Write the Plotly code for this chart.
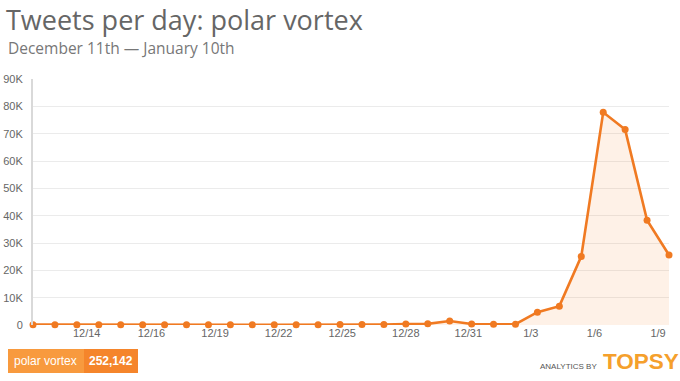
import plotly.graph_objects as go

# ---- data ----
day_index = list(range(30))  # Dec 11 ... Jan 9 (30 daily points)
tweets = [120, 90, 110, 100, 130, 95, 105, 90, 80, 100, 85, 110, 95, 120, 140,
          180, 200, 350, 420, 1450, 380, 260, 300, 4700, 6900, 25100, 77800,
          71500, 38300, 25600]
tick_positions = [2.45, 5.4, 8.3, 11.2, 14.1, 17.0, 19.85, 22.7, 25.6, 28.5]
tick_labels = ["12/14", "12/16", "12/19", "12/22", "12/25", "12/28", "12/31",
               "1/3", "1/6", "1/9"]
y_ticks = [0, 10000, 20000, 30000, 40000, 50000, 60000, 70000, 80000, 90000]
y_labels = ["0", "10K", "20K", "30K", "40K", "50K", "60K", "70K", "80K", "90K"]
series_name = "polar vortex"
total_text = "252,142"

ORANGE = "#F07A22"
W, H = 680, 381
L, R, T, B = 33, 11, 79, 56
PW, PH = W - L - R, H - T - B


def px(x):
    return (x - L) / PW


def py(y):
    return (H - B - y) / PH


fig = go.Figure()
fig.add_trace(go.Scatter(
    x=day_index, y=tweets, mode="lines+markers",
    line=dict(color=ORANGE, width=2.6),
    marker=dict(color=ORANGE, size=7),
    fill="tozeroy", fillcolor="rgba(245,140,60,0.12)",
    cliponaxis=False, showlegend=False, name=series_name,
))

fig.update_layout(
    width=W, height=H,
    margin=dict(l=L, r=R, t=T, b=B, autoexpand=False),
    paper_bgcolor="white", plot_bgcolor="white",
    font=dict(family="Liberation Sans, Arial, sans-serif", color="#666", size=11),
    xaxis=dict(range=[0, 29], tickvals=tick_positions, ticktext=tick_labels,
               showgrid=False, zeroline=False, showline=False, ticks="",
               automargin=False, tickfont=dict(size=11, color="#666")),
    yaxis=dict(range=[0, 90000], tickvals=y_ticks, ticktext=y_labels,
               showgrid=True, gridcolor="#EBEBEB", gridwidth=1,
               zeroline=False, showline=True, linecolor="#D9D9D9", linewidth=2,
               ticks="", ticklabelstandoff=6, automargin=False,
               tickfont=dict(size=11, color="#666")),
)

# Title & subtitle
fig.add_annotation(text="Tweets per day: polar vortex", xref="paper", yref="paper",
                   x=px(4), y=py(19), xanchor="left", yanchor="middle",
                   showarrow=False,
                   font=dict(family="Open Sans", size=27, color="#666"))
fig.add_annotation(text="December 11th \u2014 January 10th", xref="paper", yref="paper",
                   x=px(6), y=py(48), xanchor="left", yanchor="middle",
                   showarrow=False,
                   font=dict(family="Open Sans", size=15.5, color="#777"))

# legend-like badge
fig.add_shape(type="rect", xref="paper", yref="paper",
              x0=px(8), x1=px(84), y0=py(373), y1=py(349),
              fillcolor="#F89A3E", line=dict(width=0), layer="above")
fig.add_shape(type="rect", xref="paper", yref="paper",
              x0=px(84), x1=px(138), y0=py(373), y1=py(349),
              fillcolor="#F5852B", line=dict(width=0), layer="above")
fig.add_annotation(text=series_name, xref="paper", yref="paper",
                   x=px(45), y=py(361), xanchor="center", yanchor="middle",
                   showarrow=False, font=dict(family="Liberation Sans", size=12, color="white"))
fig.add_annotation(text="<b>" + total_text + "</b>", xref="paper", yref="paper",
                   x=px(111), y=py(361), xanchor="center", yanchor="middle",
                   showarrow=False, font=dict(family="Liberation Sans", size=12, color="white"))

# Topsy branding
fig.add_annotation(text="ANALYTICS BY", xref="paper", yref="paper",
                   x=px(599), y=py(366), xanchor="right", yanchor="middle",
                   showarrow=False, font=dict(family="Liberation Sans", size=8, color="#555"))
fig.add_annotation(text="<b>TOPSY</b>", xref="paper", yref="paper",
                   x=px(601), y=py(361), xanchor="left", yanchor="middle",
                   showarrow=False, font=dict(family="Liberation Sans", size=22.5, color="#F5A02C"))

fig.write_html("out.html", config={"displayModeBar": False},
               post_script="document.body.style.margin='0';document.body.style.overflow='hidden';")
